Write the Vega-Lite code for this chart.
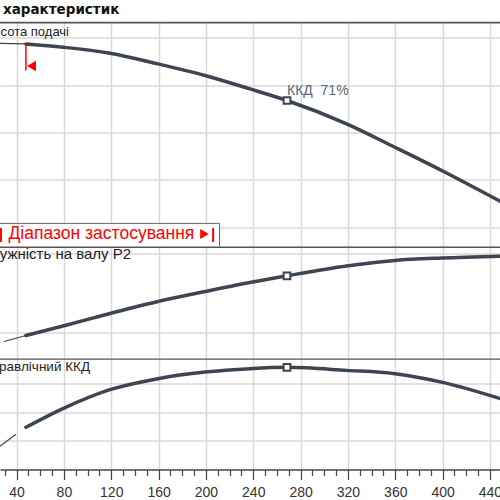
{
  "$schema": "https://vega.github.io/schema/vega-lite/v6.json",
  "padding": {"top": 2.5, "left": 0, "right": 0, "bottom": 0},
  "spacing": 0,
  "bounds": "flush",
  "title": {
    "text": "характеристик",
    "anchor": "start",
    "dx": 3,
    "offset": 5,
    "font": "DejaVu Sans",
    "fontSize": 13.5,
    "fontWeight": "bold",
    "color": "#111111"
  },
  "datasets": {
    "head": [
      {"Q": 26.0, "H": 17.53, "part": "thin"},
      {"Q": 47.9, "H": 17.49, "part": "thin"},
      {"Q": 47.9, "H": 17.49, "part": "thick"},
      {"Q": 79.2, "H": 17.21, "part": "thick"},
      {"Q": 118.9, "H": 16.7, "part": "thick"},
      {"Q": 159.5, "H": 15.8, "part": "thick"},
      {"Q": 199.2, "H": 14.82, "part": "thick"},
      {"Q": 237.2, "H": 13.69, "part": "thick"},
      {"Q": 268.5, "H": 12.71, "part": "thick"},
      {"Q": 318.9, "H": 10.74, "part": "thick"},
      {"Q": 359.7, "H": 8.76, "part": "thick"},
      {"Q": 399.2, "H": 6.8, "part": "thick"},
      {"Q": 449.0, "H": 4.18, "part": "thick"}
    ],
    "power": [
      {"Q": 29.4, "P2": 1.324, "part": "thin"},
      {"Q": 47.9, "P2": 1.438, "part": "thin"},
      {"Q": 47.9, "P2": 1.438, "part": "thick"},
      {"Q": 79.2, "P2": 1.619, "part": "thick"},
      {"Q": 118.9, "P2": 1.857, "part": "thick"},
      {"Q": 159.5, "P2": 2.086, "part": "thick"},
      {"Q": 199.2, "P2": 2.276, "part": "thick"},
      {"Q": 237.2, "P2": 2.448, "part": "thick"},
      {"Q": 268.5, "P2": 2.575, "part": "thick"},
      {"Q": 318.9, "P2": 2.762, "part": "thick"},
      {"Q": 359.7, "P2": 2.867, "part": "thick"},
      {"Q": 399.2, "P2": 2.914, "part": "thick"},
      {"Q": 449.0, "P2": 2.949, "part": "thick"}
    ],
    "eff": [
      {"Q": 26.0, "eta": 16.25, "part": "thin"},
      {"Q": 39.5, "eta": 24.6, "part": "thin"},
      {"Q": 47.9, "eta": 29.5, "part": "thick"},
      {"Q": 79.2, "eta": 42.6, "part": "thick"},
      {"Q": 118.9, "eta": 55.8, "part": "thick"},
      {"Q": 159.5, "eta": 63.5, "part": "thick"},
      {"Q": 199.2, "eta": 68.1, "part": "thick"},
      {"Q": 237.2, "eta": 70.5, "part": "thick"},
      {"Q": 268.5, "eta": 71.4, "part": "thick"},
      {"Q": 318.9, "eta": 69.3, "part": "thick"},
      {"Q": 359.7, "eta": 67.0, "part": "thick"},
      {"Q": 399.2, "eta": 61.1, "part": "thick"},
      {"Q": 449.0, "eta": 49.5, "part": "thick"}
    ],
    "bep": [
      {"Q": 268.5, "H": 12.71, "P2": 2.575, "eta": 71.4}
    ],
    "none": [{}]
  },
  "vconcat": [
    {
      "width": 500,
      "height": 225,
      "layer": [
        {
          "data": {"name": "head"},
          "transform": [{"filter": "datum.part == 'thick'"}],
          "mark": {"type": "line", "strokeWidth": 3.5, "strokeCap": "round", "strokeJoin": "round", "interpolate": "monotone", "color": "#3c4550", "clip": true},
          "encoding": {
            "x": {
              "field": "Q",
              "type": "quantitative",
              "scale": {"domain": [26, 448.5], "nice": false, "zero": false},
              "axis": {"values": [40, 80, 120, 160, 200, 240, 280, 320, 360, 400, 440], "grid": true, "labels": false, "ticks": false, "domain": false, "title": null}
            },
            "y": {
              "field": "H",
              "type": "quantitative",
              "scale": {"domain": [0.38, 19.38], "nice": false, "zero": false},
              "axis": {"values": [2, 4, 6, 8, 10, 12, 14, 16, 18], "grid": true, "labels": false, "ticks": false, "domain": false, "title": null}
            }
          }
        },
        {
          "data": {"name": "head"},
          "transform": [{"filter": "datum.part == 'thin'"}],
          "mark": {"type": "line", "strokeWidth": 1.2, "strokeJoin": "round", "color": "#3c4550", "clip": true},
          "encoding": {
            "x": {"field": "Q", "type": "quantitative"},
            "y": {"field": "H", "type": "quantitative"}
          }
        },
        {
          "data": {"name": "bep"},
          "mark": {"type": "point", "shape": "square", "filled": true, "fill": "white", "stroke": "#3c4550", "strokeWidth": 2, "size": 45, "opacity": 1},
          "encoding": {
            "x": {"field": "Q", "type": "quantitative"},
            "y": {"field": "H", "type": "quantitative"}
          }
        },
        {
          "data": {"name": "bep"},
          "mark": {"type": "text", "align": "left", "baseline": "middle", "dx": 0, "dy": -9.5, "font": "Liberation Sans", "fontSize": 14, "color": "#5c6978"},
          "encoding": {
            "x": {"field": "Q", "type": "quantitative"},
            "y": {"field": "H", "type": "quantitative"},
            "text": {"value": "ККД\u00a0\u00a071%"}
          }
        },
        {
          "data": {"name": "none"},
          "mark": {"type": "rule", "color": "#ff0000", "strokeWidth": 1.5},
          "encoding": {
            "x": {"datum": 47.9, "type": "quantitative"},
            "y": {"datum": 17.52, "type": "quantitative"},
            "y2": {"datum": 15.24}
          }
        },
        {
          "data": {"name": "none"},
          "mark": {"type": "point", "shape": "triangle-left", "filled": true, "color": "#ff0000", "size": 110, "opacity": 1},
          "encoding": {
            "x": {"datum": 52.6, "type": "quantitative"},
            "y": {"datum": 15.62, "type": "quantitative"}
          }
        },
        {
          "data": {"name": "none"},
          "mark": {"type": "rect", "fill": "white", "stroke": "#666666", "strokeWidth": 1, "clip": true},
          "encoding": {
            "x": {"datum": 18, "type": "quantitative"},
            "x2": {"datum": 211.5},
            "y": {"datum": 2.33, "type": "quantitative"},
            "y2": {"datum": 0.2}
          }
        },
        {
          "data": {"name": "none"},
          "mark": {"type": "text", "align": "left", "baseline": "middle", "font": "Liberation Sans", "fontSize": 17.5, "color": "#ff0000", "clip": true},
          "encoding": {
            "x": {"datum": 33.2, "type": "quantitative"},
            "y": {"datum": 1.43, "type": "quantitative"},
            "text": {"value": "Діапазон застосування"}
          }
        },
        {
          "data": {"name": "none"},
          "mark": {"type": "point", "shape": "triangle-right", "filled": true, "color": "#ff0000", "size": 100, "opacity": 1},
          "encoding": {
            "x": {"datum": 198.8, "type": "quantitative"},
            "y": {"datum": 1.43, "type": "quantitative"}
          }
        },
        {
          "data": {"name": "none"},
          "mark": {"type": "rule", "color": "#ff0000", "strokeWidth": 2},
          "encoding": {
            "x": {"datum": 206.1, "type": "quantitative"},
            "y": {"datum": 1.94, "type": "quantitative"},
            "y2": {"datum": 0.76}
          }
        },
        {
          "data": {"name": "none"},
          "mark": {"type": "rule", "color": "#ff0000", "strokeWidth": 2, "clip": true},
          "encoding": {
            "x": {"datum": 26.8, "type": "quantitative"},
            "y": {"datum": 1.94, "type": "quantitative"},
            "y2": {"datum": 0.76}
          }
        },
        {
          "data": {"name": "none"},
          "mark": {"type": "text", "align": "right", "baseline": "middle", "font": "Liberation Sans", "fontSize": 13, "color": "#222222", "clip": true},
          "encoding": {
            "x": {"datum": 84.3, "type": "quantitative"},
            "y": {"datum": 18.53, "type": "quantitative"},
            "text": {"value": "Висота подачі"}
          }
        },
        {
          "data": {"name": "none"},
          "mark": {"type": "rule", "color": "#555555", "strokeWidth": 2, "clip": true},
          "encoding": {
            "y": {"datum": 19.3, "type": "quantitative"}
          }
        }
      ]
    },
    {
      "width": 500,
      "height": 112,
      "layer": [
        {
          "data": {"name": "power"},
          "transform": [{"filter": "datum.part == 'thick'"}],
          "mark": {"type": "line", "strokeWidth": 3.5, "strokeCap": "round", "strokeJoin": "round", "interpolate": "monotone", "color": "#3c4550", "clip": true},
          "encoding": {
            "x": {
              "field": "Q",
              "type": "quantitative",
              "scale": {"domain": [26, 448.5], "nice": false, "zero": false},
              "axis": {"values": [40, 80, 120, 160, 200, 240, 280, 320, 360, 400, 440], "grid": true, "labels": false, "ticks": false, "domain": false, "title": null}
            },
            "y": {
              "field": "P2",
              "type": "quantitative",
              "scale": {"domain": [1.0, 3.133], "nice": false, "zero": false},
              "axis": {"values": [1.5, 2.0, 2.5, 3.0], "grid": true, "labels": false, "ticks": false, "domain": false, "title": null}
            }
          }
        },
        {
          "data": {"name": "power"},
          "transform": [{"filter": "datum.part == 'thin'"}],
          "mark": {"type": "line", "strokeWidth": 1.2, "strokeJoin": "round", "color": "#3c4550", "clip": true},
          "encoding": {
            "x": {"field": "Q", "type": "quantitative"},
            "y": {"field": "P2", "type": "quantitative"}
          }
        },
        {
          "data": {"name": "bep"},
          "mark": {"type": "point", "shape": "square", "filled": true, "fill": "white", "stroke": "#3c4550", "strokeWidth": 2, "size": 45, "opacity": 1},
          "encoding": {
            "x": {"field": "Q", "type": "quantitative"},
            "y": {"field": "P2", "type": "quantitative"}
          }
        },
        {
          "data": {"name": "none"},
          "mark": {"type": "text", "align": "right", "baseline": "middle", "font": "Liberation Sans", "fontSize": 15, "color": "#222222", "clip": true},
          "encoding": {
            "x": {"datum": 136.8, "type": "quantitative"},
            "y": {"datum": 2.99, "type": "quantitative"},
            "text": {"value": "Потужність на валу P2"}
          }
        },
        {
          "data": {"name": "none"},
          "mark": {"type": "rule", "color": "#555555", "strokeWidth": 2, "clip": true},
          "encoding": {
            "y": {"datum": 3.125, "type": "quantitative"}
          }
        }
      ]
    },
    {
      "width": 500,
      "height": 111,
      "resolve": {"axis": {"x": "independent"}},
      "layer": [
        {
          "data": {"name": "eff"},
          "transform": [{"filter": "datum.part == 'thick'"}],
          "mark": {"type": "line", "strokeWidth": 3.5, "strokeCap": "round", "strokeJoin": "round", "interpolate": "monotone", "color": "#3c4550", "clip": true},
          "encoding": {
            "x": {
              "field": "Q",
              "type": "quantitative",
              "scale": {"domain": [26, 448.5], "nice": false, "zero": false},
              "axis": {
                "orient": "bottom",
                "values": [40, 80, 120, 160, 200, 240, 280, 320, 360, 400, 440],
                "title": null,
                "grid": true,
                "tickSize": 10,
                "tickColor": "#444444",
                "tickWidth": 1.2,
                "domainColor": "#444444",
                "domainWidth": 1.5,
                "labelFlush": false,
                "labelOverlap": false,
                "labelFont": "Liberation Sans",
                "labelFontSize": 14,
                "labelColor": "#333333",
                "labelPadding": 6
              }
            },
            "y": {
              "field": "eta",
              "type": "quantitative",
              "scale": {"domain": [0, 77.6], "nice": false, "zero": false},
              "axis": {"values": [20, 40, 60], "grid": true, "labels": false, "ticks": false, "domain": false, "title": null}
            }
          }
        },
        {
          "data": {"name": "eff"},
          "transform": [{"filter": "datum.part == 'thin'"}],
          "mark": {"type": "line", "strokeWidth": 1.2, "strokeJoin": "round", "color": "#3c4550", "clip": true},
          "encoding": {
            "x": {
              "field": "Q",
              "type": "quantitative",
              "axis": {
                "orient": "bottom",
                "values": [30, 50, 60, 70, 90, 100, 110, 130, 140, 150, 170, 180, 190, 210, 220, 230, 250, 260, 270, 290, 300, 310, 330, 340, 350, 370, 380, 390, 410, 420, 430],
                "title": null,
                "grid": false,
                "labels": false,
                "domain": false,
                "tickSize": 6,
                "tickColor": "#444444",
                "tickWidth": 1.2
              }
            },
            "y": {"field": "eta", "type": "quantitative"}
          }
        },
        {
          "data": {"name": "bep"},
          "mark": {"type": "point", "shape": "square", "filled": true, "fill": "white", "stroke": "#3c4550", "strokeWidth": 2, "size": 45, "opacity": 1},
          "encoding": {
            "x": {"field": "Q", "type": "quantitative", "axis": null},
            "y": {"field": "eta", "type": "quantitative"}
          }
        },
        {
          "data": {"name": "none"},
          "mark": {"type": "text", "align": "right", "baseline": "middle", "font": "Liberation Sans", "fontSize": 13.5, "color": "#222222", "clip": true},
          "encoding": {
            "x": {"datum": 102.1, "type": "quantitative", "axis": null},
            "y": {"datum": 71.4, "type": "quantitative"},
            "text": {"value": "Гідравлічний ККД"}
          }
        },
        {
          "data": {"name": "none"},
          "mark": {"type": "rule", "color": "#555555", "strokeWidth": 2, "clip": true},
          "encoding": {
            "y": {"datum": 77.5, "type": "quantitative"}
          }
        }
      ]
    }
  ],
  "config": {
    "view": {"stroke": null},
    "font": "Liberation Sans",
    "title": {"font": "DejaVu Sans", "fontWeight": "bold"},
    "axis": {"gridColor": "#d9d9d9", "gridWidth": 1.5}
  }
}
